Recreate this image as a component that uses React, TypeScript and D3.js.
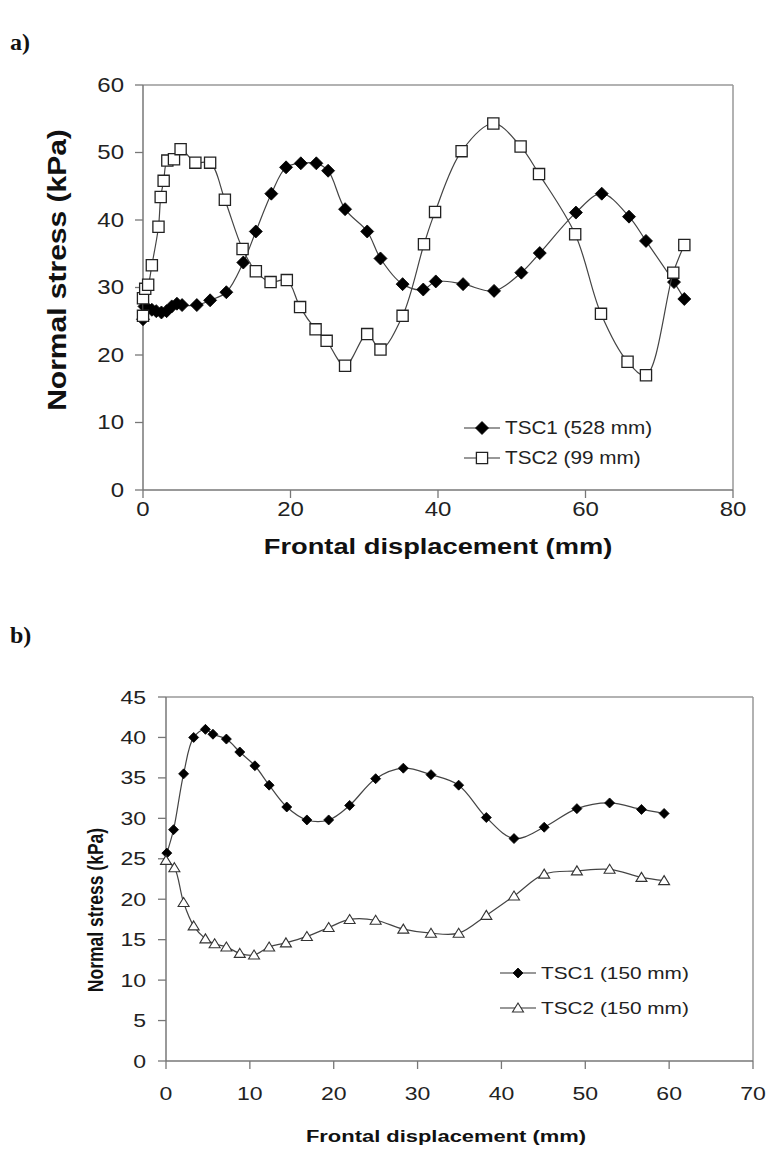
import React from "react";
import * as d3 from "d3";

// ---------- Data: panel a ----------
const aTsc1X = [0, 0.2, 0.6, 1.2, 1.8, 2.5, 3.2, 3.9, 4.6, 5.3, 7.3, 9.1, 11.3, 13.6, 15.3, 17.4, 19.4, 21.4, 23.5, 25.1, 27.4, 30.4, 32.2, 35.2, 38.0, 39.7, 43.4, 47.6, 51.3, 53.8, 58.7, 62.2, 65.9, 68.2, 72.0, 73.4];
const aTsc1Y = [25.3, 27.2, 26.9, 26.7, 26.5, 26.3, 26.5, 27.2, 27.6, 27.4, 27.4, 28.1, 29.3, 33.7, 38.3, 43.9, 47.8, 48.4, 48.4, 47.3, 41.6, 38.3, 34.3, 30.5, 29.7, 30.9, 30.5, 29.5, 32.2, 35.1, 41.1, 43.9, 40.5, 36.9, 30.8, 28.3];
const aTsc2X = [0, 0, 0.3, 0.7, 1.2, 2.1, 2.4, 2.8, 3.3, 4.2, 5.1, 7.1, 9.1, 11.1, 13.5, 15.3, 17.3, 19.5, 21.3, 23.4, 24.9, 27.4, 30.4, 32.2, 35.2, 38.1, 39.6, 43.2, 47.5, 51.2, 53.7, 58.6, 62.1, 65.7, 68.2, 71.9, 73.4];
const aTsc2Y = [25.8, 28.4, 29.8, 30.4, 33.3, 39.0, 43.4, 45.8, 48.8, 49.0, 50.5, 48.5, 48.5, 43.0, 35.7, 32.4, 30.8, 31.1, 27.1, 23.8, 22.1, 18.4, 23.1, 20.8, 25.8, 36.4, 41.2, 50.2, 54.3, 50.9, 46.8, 37.9, 26.1, 19.0, 17.0, 32.2, 36.3];
const aXTicks = [0, 20, 40, 60, 80];
const aYTicks = [0, 10, 20, 30, 40, 50, 60];
const aLegend = ["TSC1 (528 mm)", "TSC2 (99 mm)"];

// ---------- Data: panel b ----------
const bTsc1X = [0.1, 0.9, 2.1, 3.3, 4.7, 5.6, 7.2, 8.8, 10.6, 12.3, 14.4, 16.8, 19.4, 21.9, 25.0, 28.3, 31.6, 34.9, 38.2, 41.5, 45.1, 49.0, 52.9, 56.7, 59.4];
const bTsc1Y = [25.7, 28.6, 35.5, 40.0, 41.0, 40.4, 39.8, 38.2, 36.5, 34.1, 31.4, 29.8, 29.8, 31.6, 34.9, 36.2, 35.4, 34.1, 30.1, 27.5, 28.9, 31.2, 31.9, 31.1, 30.6];
const bTsc2X = [0, 1.0, 2.1, 3.3, 4.7, 5.8, 7.2, 8.8, 10.5, 12.3, 14.3, 16.8, 19.4, 21.9, 25.0, 28.3, 31.6, 34.9, 38.2, 41.5, 45.1, 49.0, 52.9, 56.7, 59.4];
const bTsc2Y = [24.8, 23.9, 19.6, 16.7, 15.1, 14.5, 14.1, 13.3, 13.1, 14.1, 14.6, 15.4, 16.5, 17.5, 17.4, 16.3, 15.8, 15.8, 18.0, 20.4, 23.1, 23.5, 23.7, 22.7, 22.3];
const bXTicks = [0, 10, 20, 30, 40, 50, 60, 70];
const bYTicks = [0, 5, 10, 15, 20, 25, 30, 35, 40, 45];
const bLegend = ["TSC1 (150 mm)", "TSC2 (150 mm)"];

const xTitle = "Frontal displacement (mm)";
const yTitle = "Normal stress (kPa)";

const SANS = "Arial, 'Liberation Sans', Helvetica, sans-serif";
const SERIF = "'Times New Roman', 'Liberation Serif', serif";

type TP = { x: number; y: number; sx?: number; rot?: number; anchor?: string; size: number; bold?: boolean; family?: string; fill?: string; children: React.ReactNode };
const T = ({ x, y, sx = 1, rot = 0, anchor = "start", size, bold, family = SANS, fill = "#222", children }: TP) => (
  <text
    transform={rot ? `translate(${x},${y}) rotate(${rot}) scale(1,${sx})` : `translate(${x},${y}) scale(${sx},1)`}
    textAnchor={anchor}
    dominantBaseline="central"
    fontSize={size}
    fontWeight={bold ? "bold" : "normal"}
    fontFamily={family}
    fill={fill}
  >
    {children}
  </text>
);

const diamond = (cx: number, cy: number, r: number) => `M${cx},${cy - r}L${cx + r},${cy}L${cx},${cy + r}L${cx - r},${cy}Z`;
const square = (cx: number, cy: number, r: number) => `M${cx - r},${cy - r}H${cx + r}V${cy + r}H${cx - r}Z`;
const triangle = (cx: number, cy: number, r: number) => `M${cx},${cy - r}L${cx + r * 1.1},${cy + r * 0.8}L${cx - r * 1.1},${cy + r * 0.8}Z`;

type Series = { xs: number[]; ys: number[]; marker: "diamond" | "square" | "triangle"; r: number };

function Panel({
  xDomain, yDomain, left, right, top, bottom, xTicks, yTicks, series, legend, legendX, legendY, legendGap,
  tickSize, tickSx, tickLabelGapY, tickLabelRight, xTitleX, xTitleY, xTitleSize, xTitleSx, yTitleX, yTitleY, yTitleSize, yTitleSx,
  legendSize, legendSx, tickLen,
}: any) {
  const x = d3.scaleLinear().domain(xDomain).range([left, right]);
  const y = d3.scaleLinear().domain(yDomain).range([bottom, top]);
  const line = d3.line<[number, number]>().x((d) => x(d[0])).y((d) => y(d[1])).curve(d3.curveCatmullRom.alpha(0.5));
  const mk = (s: Series, cx: number, cy: number, key: any) => {
    if (s.marker === "diamond") return <path key={key} d={diamond(cx, cy, s.r)} fill="#000" stroke="#000" strokeWidth={0.8} />;
    if (s.marker === "square") return <path key={key} d={square(cx, cy, s.r)} fill="#fff" stroke="#222" strokeWidth={1.3} />;
    return <path key={key} d={triangle(cx, cy, s.r)} fill="#fff" stroke="#333" strokeWidth={1.1} />;
  };
  return (
    <g>
      {/* frame */}
      <line x1={left} x2={right} y1={top} y2={top} stroke="#999" strokeWidth={1.5} />
      <line x1={right} x2={right} y1={top} y2={bottom} stroke="#999" strokeWidth={1.5} />
      <line x1={left} x2={right} y1={bottom} y2={bottom} stroke="#777" strokeWidth={1.5} />
      <line x1={left} x2={left} y1={top} y2={bottom} stroke="#777" strokeWidth={1.5} />
      {yTicks.map((t: number) => (
        <g key={"yt" + t}>
          <line x1={left - tickLen} x2={left} y1={y(t)} y2={y(t)} stroke="#777" strokeWidth={1.3} />
          <T x={tickLabelRight} y={y(t)} anchor="end" size={tickSize} sx={tickSx}>{t}</T>
        </g>
      ))}
      {xTicks.map((t: number) => (
        <g key={"xt" + t}>
          <line x1={x(t)} x2={x(t)} y1={bottom} y2={bottom + tickLen} stroke="#777" strokeWidth={1.3} />
          <T x={x(t)} y={bottom + tickLabelGapY} anchor="middle" size={tickSize} sx={tickSx}>{t}</T>
        </g>
      ))}
      <T x={xTitleX} y={xTitleY} anchor="middle" size={xTitleSize} sx={xTitleSx} bold fill="#111">{xTitle}</T>
      <T x={yTitleX} y={yTitleY} rot={-90} anchor="middle" size={yTitleSize} sx={yTitleSx} bold fill="#111">{yTitle}</T>
      {series.map((s: Series, i: number) => {
        const pts = s.xs.map((v, j) => [v, s.ys[j]] as [number, number]);
        return (
          <g key={"s" + i}>
            <path d={line(pts) || ""} fill="none" stroke="#444" strokeWidth={1.2} />
            {pts.map((p, j) => mk(s, x(p[0]), y(p[1]), j))}
          </g>
        );
      })}
      {legend.map((lab: string, i: number) => {
        const ly = legendY + i * legendGap;
        return (
          <g key={"lg" + i}>
            <line x1={legendX} x2={legendX + 36} y1={ly} y2={ly} stroke="#333" strokeWidth={1.2} />
            {mk(series[i], legendX + 18, ly, "m")}
            <T x={legendX + 41} y={ly} size={legendSize} sx={legendSx}>{lab}</T>
          </g>
        );
      })}
    </g>
  );
}

export default function App() {
  const aSeries: Series[] = [
    { xs: aTsc1X, ys: aTsc1Y, marker: "diamond", r: 6.5 },
    { xs: aTsc2X, ys: aTsc2Y, marker: "square", r: 5.6 },
  ];
  const bSeries: Series[] = [
    { xs: bTsc1X, ys: bTsc1Y, marker: "diamond", r: 5 },
    { xs: bTsc2X, ys: bTsc2Y, marker: "triangle", r: 5 },
  ];
  return (
    <svg width={772} height={1150} style={{ position: "absolute", left: 0, top: 0, background: "#fff" }}>
      <rect width={772} height={1150} fill="#fff" />
      <T x={10} y={42} size={24} bold family={SERIF} fill="#111">a)</T>
      <Panel
        xDomain={[0, 80]} yDomain={[0, 60]} left={143} right={733} top={85} bottom={490}
        xTicks={aXTicks} yTicks={aYTicks} series={aSeries} legend={aLegend}
        legendX={464} legendY={428} legendGap={30}
        tickSize={20} tickSx={1.2} tickLabelGapY={19} tickLabelRight={124} tickLen={8}
        xTitleX={438} xTitleY={546} xTitleSize={22} xTitleSx={1.24}
        yTitleX={57} yTitleY={270} yTitleSize={30} yTitleSx={0.85}
        legendSize={18} legendSx={1.15}
      />
      <T x={10} y={635} size={24} bold family={SERIF} fill="#111">b)</T>
      <Panel
        xDomain={[0, 70]} yDomain={[0, 45]} left={166} right={753} top={697} bottom={1061}
        xTicks={bXTicks} yTicks={bYTicks} series={bSeries} legend={bLegend}
        legendX={500} legendY={973} legendGap={35}
        tickSize={18} tickSx={1.28} tickLabelGapY={32} tickLabelRight={146} tickLen={8}
        xTitleX={446} xTitleY={1136} xTitleSize={17} xTitleSx={1.29}
        yTitleX={95} yTitleY={910} yTitleSize={17.5} yTitleSx={1.25}
        legendSize={16} legendSx={1.3}
      />
    </svg>
  );
}
